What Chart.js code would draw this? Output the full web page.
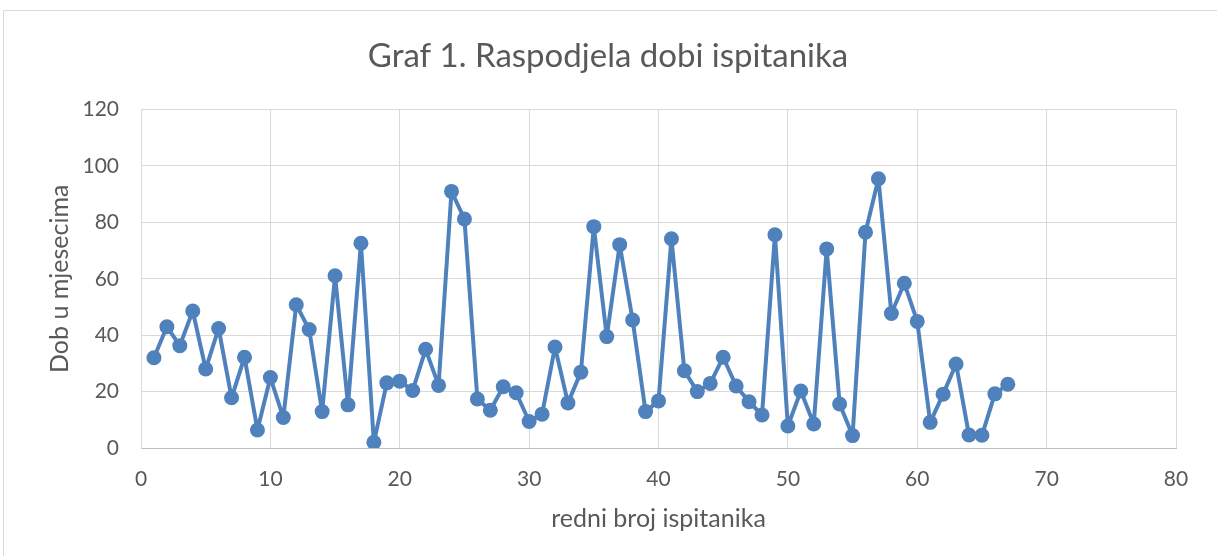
<!DOCTYPE html>
<html>
<head>
<meta charset="utf-8">
<script src="https://cdn.jsdelivr.net/npm/chart.js@4.4.1/dist/chart.umd.min.js"></script>
<style>
  html, body { margin: 0; padding: 0; background: #fff; }
  #wrap { width: 1217px; height: 556px; }
</style>
</head>
<body>
<div id="wrap"><canvas id="chart"></canvas></div>
<script>
// redni broj ispitanika 1..67, dob u mjesecima
const subjects = [
  1, 2, 3, 4, 5, 6, 7, 8, 9, 10,
  11, 12, 13, 14, 15, 16, 17, 18, 19, 20,
  21, 22, 23, 24, 25, 26, 27, 28, 29, 30,
  31, 32, 33, 34, 35, 36, 37, 38, 39, 40,
  41, 42, 43, 44, 45, 46, 47, 48, 49, 50,
  51, 52, 53, 54, 55, 56, 57, 58, 59, 60,
  61, 62, 63, 64, 65, 66, 67
];
const ageMonths = [
  32, 43, 36.3, 48.6, 28, 42.4, 17.8, 32.2, 6.4, 25,
  10.8, 50.8, 42, 12.9, 61.1, 15.3, 72.6, 2, 23.1, 23.7,
  20.4, 35, 22.2, 91, 81.2, 17.4, 13.4, 21.7, 19.6, 9.4,
  12, 35.8, 16, 26.9, 78.5, 39.5, 72.1, 45.4, 12.9, 16.7,
  74.2, 27.4, 20, 22.9, 32.2, 22, 16.4, 11.7, 75.6, 7.8,
  20.2, 8.5, 70.6, 15.6, 4.4, 76.5, 95.5, 47.7, 58.4, 44.9,
  9.1, 19.1, 29.8, 4.6, 4.5, 19.2, 22.6
];
const xTicks = [0, 10, 20, 30, 40, 50, 60, 70, 80];
const yTicks = [0, 20, 40, 60, 80, 100, 120];

const points = subjects.map((s, i) => ({ x: s, y: ageMonths[i] }));

const frame = {
  id: 'frame',
  beforeDraw(chart) {
    const ctx = chart.ctx;
    ctx.save();
    ctx.fillStyle = '#ffffff';
    ctx.fillRect(0, 0, chart.width, chart.height);
    ctx.strokeStyle = '#d9d9d9';
    ctx.lineWidth = 1;
    ctx.strokeRect(3.5, 10.5, chart.width + 10, chart.height + 10);
    ctx.restore();
  }
};

const grey = '#595959';
const font = 'Lato, "Open Sans", sans-serif';

new Chart(document.getElementById('chart'), {
  type: 'scatter',
  data: {
    datasets: [{
      label: 'Dob',
      data: points,
      showLine: true,
      borderColor: '#4f81bd',
      backgroundColor: '#4f81bd',
      borderWidth: 4,
      borderJoinStyle: 'round',
      borderCapStyle: 'round',
      pointRadius: 7.5,
      pointHoverRadius: 7.5,
      pointBorderWidth: 0
    }]
  },
  options: {
    responsive: true,
    maintainAspectRatio: false,
    animation: false,
    layout: { padding: { left: 40, right: 41, top: 10, bottom: 0 } },
    plugins: {
      legend: { display: false },
      tooltip: { enabled: false },
      title: {
        display: true,
        text: 'Graf 1. Raspodjela dobi ispitanika',
        color: grey,
        font: { family: font, size: 33, weight: 'normal' },
        padding: { top: 27, bottom: 33 }
      }
    },
    scales: {
      x: {
        type: 'linear',
        min: 0,
        max: 80,
        afterBuildTicks: (scale) => { scale.ticks = xTicks.map(v => ({ value: v })); },
        afterFit: (scale) => { scale.height = 108; },
        grid: { color: '#d9d9d9', drawTicks: false },
        border: { color: '#bfbfbf' },
        ticks: { color: grey, padding: 19, font: { family: font, size: 21 } },
        title: {
          display: true,
          text: 'redni broj ispitanika',
          color: grey,
          font: { family: font, size: 25 },
          padding: { top: 0, bottom: 22 }
        }
      },
      y: {
        min: 0,
        max: 120,
        afterBuildTicks: (scale) => { scale.ticks = yTicks.map(v => ({ value: v })); },
        afterFit: (scale) => { scale.width = 101; },
        grid: { color: '#d9d9d9', drawTicks: false },
        border: { color: '#d9d9d9' },
        ticks: { color: grey, padding: 22, font: { family: font, size: 21 } },
        title: {
          display: true,
          text: 'Dob u mjesecima',
          color: grey,
          font: { family: font, size: 25 },
          padding: { top: 5, bottom: 0 }
        }
      }
    }
  },
  plugins: [frame]
});
</script>
</body>
</html>
